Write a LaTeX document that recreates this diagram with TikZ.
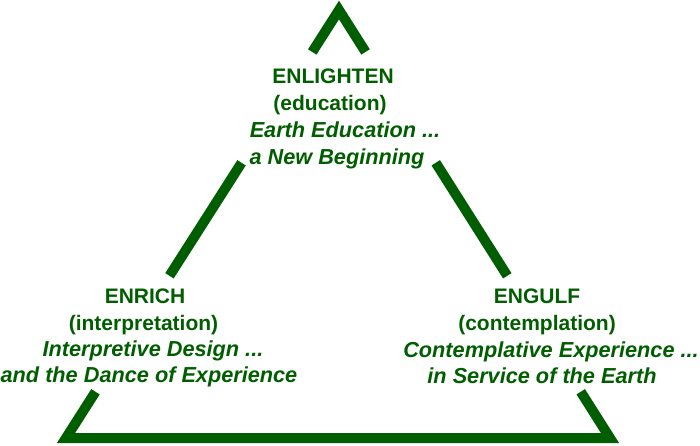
\documentclass[tikz,border=0pt]{standalone}
\usepackage{fontspec}
\setmainfont{Liberation Sans}
\usetikzlibrary{calc}
\definecolor{leaf}{RGB}{0,94,0}
\begin{document}
\begin{tikzpicture}[x=1pt,y=-1pt,
  bar/.style={draw=leaf,line width=10pt,line join=miter,line cap=butt},
  head/.style={text=leaf,font=\fontsize{21}{25}\selectfont\bfseries,anchor=base,inner sep=0pt},
  sub/.style={text=leaf,font=\fontsize{21.7}{25}\selectfont\bfseries\itshape,anchor=base,inner sep=0pt}]
\useasboundingbox (0,0) rectangle (700,445);
\coordinate (A) at (339,10);
\coordinate (B) at (66,438);
\coordinate (C) at (610,438);
% apex
\draw[bar] ($(A)!0.098!(B)$) -- (A) -- ($(A)!0.098!(C)$);
% middle pieces
\draw[bar] ($(A)!0.357!(B)$) -- ($(A)!0.621!(B)$);
\draw[bar] ($(A)!0.357!(C)$) -- ($(A)!0.621!(C)$);
% base
\draw[bar] ($(A)!0.892!(B)$) -- (B) -- (C) -- ($(A)!0.892!(C)$);
% top text
\node[head] (t1) at (333,83) {ENLIGHTEN};
\node[head] (t2) at (330,110) {(education)};
\node[sub]  (t3) at (345,137) {Earth Education ...};
\node[sub]  (t4) at (337,164) {a New Beginning};
% left text
\node[head] (l1) at (145,303) {ENRICH};
\node[head] (l2) at (143.5,330) {(interpretation)};
\node[sub]  (l3) at (153,356) {Interpretive Design ...};
\node[sub]  (l4) at (149,382) {and the Dance of Experience};
% right text
\node[head] (r1) at (537,303) {ENGULF};
\node[head] (r2) at (537,330) {(contemplation)};
\node[sub]  (r3) at (551,357) {Contemplative Experience ...};
\node[sub]  (r4) at (542,383) {in Service of the Earth};
\end{tikzpicture}
\end{document}
